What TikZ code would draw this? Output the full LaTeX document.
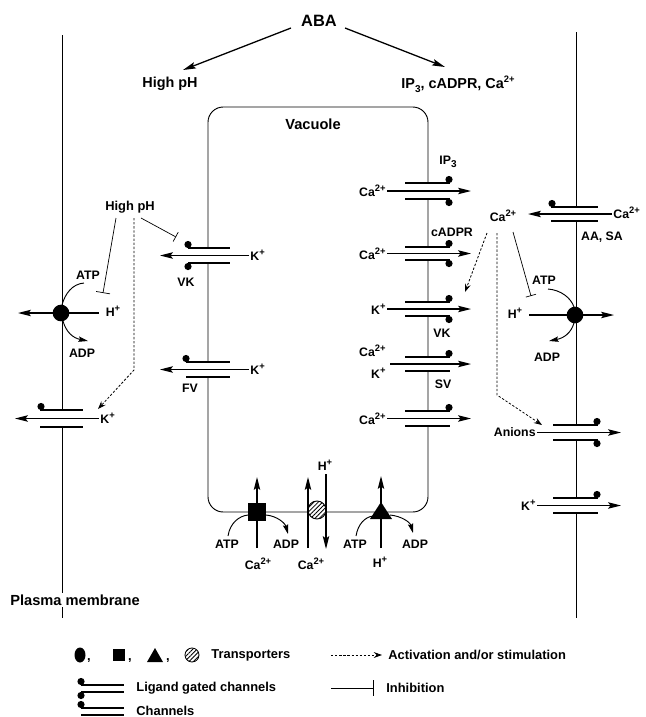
\documentclass[tikz,border=0pt]{standalone}
\usepackage{fontspec}
\setmainfont{Liberation Sans}
\usetikzlibrary{arrows.meta,patterns.meta}
\newcommand{\ChBars}[4]{%
  \fill[white] (#1,#3) rectangle (#2,#4);
  \draw[chbar] (#1,#3) -- (#2,#3);
  \draw[chbar] (#1,#4) -- (#2,#4);}
\newcommand{\ChDot}[2]{\fill (#1,#2) circle[radius=3.6];}
\newcommand{\myup}[1]{\raisebox{0.42em}{\fontsize{8}{8}\selectfont #1}}
\newcommand{\mydown}[1]{\raisebox{-0.25em}{\fontsize{8.5}{8.5}\selectfont #1}}
\begin{document}
\begin{tikzpicture}[x=0.03cm,y=-0.03cm,
  lbl/.style={font=\bfseries\fontsize{10.5}{12}\selectfont,inner sep=1pt},
  toplbl/.style={font=\bfseries\fontsize{12.3}{14}\selectfont,inner sep=1pt},
  leglbl/.style={font=\bfseries\fontsize{11}{13}\selectfont,inner sep=1pt},
  biglbl/.style={font=\bfseries\fontsize{14}{16}\selectfont,inner sep=1pt},
  pmlbl/.style={font=\bfseries\fontsize{12.5}{14}\selectfont,inner sep=1pt},
  mem/.style={line width=0.8pt},
  chbar/.style={line width=1pt},
  ion/.style={line width=1.1pt,-{Stealth[length=11pt,width=5.5pt,inset=2pt]}},
  ionline/.style={line width=1.1pt},
  nrg/.style={line width=0.8pt},
  nrgarr/.style={line width=0.8pt,-{Stealth[length=8pt,width=4.5pt,inset=1pt]}},
  act/.style={line width=0.7pt,dash pattern=on 2pt off 1.5pt,-{Stealth[length=7pt,width=5pt,inset=2.5pt]}},
  inh/.style={line width=0.6pt,-{Bar[width=9pt]}},
  pump/.style={circle,fill,inner sep=0pt,minimum size=0.5cm},
  hatch/.style={draw,line width=0.8pt,fill=white,postaction={pattern={Lines[angle=45,distance=2.6pt,line width=0.7pt]}}},
]
\useasboundingbox (0,0) rectangle (646,717);

% ---------- top ----------
\node[biglbl] (aba) at (319,21) {ABA};
\node[toplbl] (hph) at (170,84) {High pH};
\node[toplbl] (sig) at (458,84) {IP\mydown{3}, cADPR, Ca\myup{2+}};
\coordinate (abaL) at (291,28);
\coordinate (abaR) at (345,28);
\coordinate (hphT) at (183,70);
\coordinate (sigT) at (445,67);
\draw[ion] (abaL) -- (hphT);
\draw[ion] (abaR) -- (sigT);

% ---------- membranes ----------
\draw[mem] (62,35) -- (62,618);
\draw[mem] (576,32) -- (576,618);
\draw[mem,rounded corners=13pt] (208,107) rectangle (428,512);
\node[toplbl,font=\bfseries\fontsize{12.5}{14}\selectfont] (vac) at (313,124) {Vacuole};

% ---------- left vacuole channels ----------
\ChBars{188}{230}{248}{263}
\ChDot{188}{244.5}\ChDot{188}{266.5}
\node[lbl,anchor=west] (kvk) at (249,255.5) {K\myup{+}};
\coordinate (kvkT) at (160,255.5);
\draw[ion] (kvkT -| kvk.west) -- (kvkT);
\node[lbl] (vkl) at (186,282) {VK};

\ChBars{186}{230}{362}{377}
\ChDot{186}{358.5}
\node[lbl,anchor=west] (kfv) at (249,369.5) {K\myup{+}};
\coordinate (kfvT) at (160,369.5);
\draw[ion] (kfvT -| kfv.west) -- (kfvT);
\node[lbl] (fv) at (190,388) {FV};

% ---------- left plasma membrane ----------
\ChBars{40}{83}{410}{427}
\ChDot{41}{406.5}
\node[lbl,anchor=west] (kpm) at (99,418.5) {K\myup{+}};
\coordinate (kpmT) at (15,418.5);
\draw[ion] (kpmT -| kpm.west) -- (kpmT);

\node[pump] (lpump) at (61,313) {};
\node[lbl] (lh) at (113,311) {H\myup{+}};
\coordinate (lpT) at (18,313);
\draw[ion] (lpump.center) -- (lpT);
\draw[ionline,shorten <=5pt] (lh.west |- lpump.center) -- (lpump.center);
\node[lbl] (latp) at (88,275) {ATP};
\node[lbl] (ladp) at (82,353) {ADP};
\draw[nrg] (84,283) .. controls (72,284) and (65,294) .. (62,305);
\draw[nrgarr] (63,321) .. controls (66,332) and (73,338) .. (88,341);

\node[lbl,font=\bfseries\fontsize{11}{13}\selectfont] (hp2) at (130,207) {High pH};
\coordinate (hpa) at (141,218);
\coordinate (hpaT) at (176,237);
\coordinate (hpb) at (116,218);
\coordinate (hpbT) at (103,293);
\coordinate (hpc) at (134,218);
\coordinate (hpcM) at (134,370);
\coordinate (hpcT) at (98,409);
\draw[inh] (hpa) -- (hpaT);
\draw[inh,-{Bar[width=12pt]}] (hpb) -- (hpbT);
\draw[act] (hpc) -- (hpcM) -- (hpcT);

% ---------- right vacuole channels ----------
\ChBars{405}{450}{183}{199}
\ChDot{449}{179.5}\ChDot{449}{202.5}
\node[lbl,anchor=east] (c1) at (387,191) {Ca\myup{2+}};
\coordinate (c1T) at (471,191);
\draw[ion] (c1T -| c1.east) -- (c1T);
\node[lbl] (ip3) at (448,162) {IP\mydown{3}};

\ChBars{405}{450}{247}{260}
\ChDot{449}{243.5}\ChDot{449}{263.5}
\node[lbl,anchor=east] (c2) at (387,253.5) {Ca\myup{2+}};
\coordinate (c2T) at (471,253.5);
\draw[ion] (c2T -| c2.east) -- (c2T);
\node[lbl] (cadpr) at (452,232) {cADPR};

\ChBars{405}{450}{302}{316}
\ChDot{449}{298.5}\ChDot{449}{319.5}
\node[lbl,anchor=east] (k3) at (387,309) {K\myup{+}};
\coordinate (k3T) at (471,309);
\draw[ion] (k3T -| k3.east) -- (k3T);
\node[lbl] (vkr) at (442,333) {VK};

\ChBars{405}{450}{357}{371}
\ChDot{449}{353.5}
\node[lbl,anchor=east] (c4) at (387,351) {Ca\myup{2+}};
\node[lbl,anchor=east] (k4) at (387,373) {K\myup{+}};
\coordinate (c4S) at (390,364);
\coordinate (c4T) at (471,364);
\draw[ion] (c4S) -- (c4T);
\node[lbl] (sv) at (443,384) {SV};

\ChBars{405}{450}{411}{426}
\ChDot{449}{407.5}
\node[lbl,anchor=east] (c5) at (387,418.5) {Ca\myup{2+}};
\coordinate (c5T) at (471,418.5);
\draw[ion] (c5T -| c5.east) -- (c5T);

% ---------- right plasma membrane ----------
\ChBars{551}{598}{207}{221}
\ChDot{552}{203.5}
\node[lbl,anchor=west] (c6) at (612,213) {Ca\myup{2+}};
\coordinate (c6T) at (528,214);
\draw[ion] (c6T -| c6.west) -- (c6T);
\node[lbl] (aasa) at (602,237) {AA, SA};

\ChBars{553}{598}{425}{440}
\ChDot{597}{421.5}\ChDot{597}{443.5}
\node[lbl,anchor=east] (ani) at (537,432.5) {Anions};
\coordinate (aniT) at (621,432.5);
\draw[ion] (aniT -| ani.east) -- (aniT);

\ChBars{553}{598}{498}{513}
\ChDot{597}{494.5}
\node[lbl,anchor=east] (k7) at (537,505.5) {K\myup{+}};
\coordinate (k7T) at (621,505.5);
\draw[ion] (k7T -| k7.east) -- (k7T);

\node[pump] (rpump) at (575,315) {};
\node[lbl] (rh) at (515,313) {H\myup{+}};
\coordinate (rpT) at (614,315);
\draw[ion] (rpump.center) -- (rpT);
\draw[ionline,shorten <=5pt] (rh.east |- rpump.center) -- (rpump.center);
\node[lbl] (ratp) at (544,280) {ATP};
\node[lbl] (radp) at (547,357) {ADP};
\draw[nrg] (548,289) .. controls (561,290) and (571,298) .. (574,307);
\draw[nrgarr] (574,323) .. controls (571,333) and (564,338) .. (549,341);

\node[lbl] (cac) at (503,216) {Ca\myup{2+}};
\coordinate (caa) at (487,233);
\coordinate (caaT) at (465,292);
\coordinate (cab) at (497,233);
\coordinate (cabM) at (497,395);
\coordinate (cabT) at (542,425);
\coordinate (cai) at (513,232);
\coordinate (caiT) at (531,296);
\draw[act] (caa) -- (caaT);
\draw[act] (cab) -- (cabM) -- (cabT);
\draw[inh] (cai) -- (caiT);

% ---------- bottom transporters ----------
\node[rectangle,fill,inner sep=0pt,minimum size=0.54cm] (sq) at (257,512) {};
\coordinate (sqT) at (257,477);
\coordinate (sqB) at (257,548);
\draw[ion] (sq.north) -- (sqT);
\draw[ionline] (sqB) -- (sq.south);
\node[lbl] (batp1) at (227,544) {ATP};
\node[lbl] (badp1) at (286,544) {ADP};
\node[lbl] (bca1) at (258,564) {Ca\myup{2+}};
\draw[nrg] (228,536) .. controls (230,523) and (239,516) .. (248,515);
\draw[nrgarr] (266,515) .. controls (277,516) and (285,523) .. (288,534);

\draw[hatch] (317,510) circle[radius=9];
\coordinate (hcU0) at (308,548);
\coordinate (hcU) at (308,477);
\coordinate (hcD0) at (326,474);
\coordinate (hcD) at (326,549);
\draw[ion] (hcU0) -- (hcU);
\draw[ion] (hcD0) -- (hcD);
\node[lbl] (bh2) at (325,465) {H\myup{+}};
\node[lbl] (bca2) at (311,564) {Ca\myup{2+}};

\fill (370,519) -- (392,519) -- (381,502) -- cycle;
\coordinate (triTop) at (381,503);
\coordinate (triT) at (381,476);
\coordinate (triBot) at (381,519);
\coordinate (triB) at (381,548);
\draw[ion] (triTop) -- (triT);
\draw[ionline] (triB) -- (triBot);
\node[lbl] (batp3) at (355,544) {ATP};
\node[lbl] (badp3) at (415,544) {ADP};
\node[lbl] (bh3) at (380,562) {H\myup{+}};
\draw[nrg] (356,536) .. controls (358,524) and (365,517) .. (373,516);
\draw[nrgarr] (390,515) .. controls (401,516) and (410,522) .. (413,533);

\node[pmlbl,fill=white] (pml) at (75,600) {Plasma membrane};

% ---------- legend ----------
\fill (80,655) ellipse [x radius=5.5, y radius=7.5];
\node[leglbl,anchor=base west,inner sep=0pt] (cm1) at (87,660) {,};
\fill (113,649) rectangle (125,661);
\node[leglbl,anchor=base west,inner sep=0pt] (cm2) at (128,660) {,};
\fill (147,662) -- (163,662) -- (155,648) -- cycle;
\node[leglbl,anchor=base west,inner sep=0pt] (cm3) at (166,660) {,};
\draw[hatch,line width=0.7pt] (192,655) circle[radius=7];
\node[leglbl,anchor=west] (ltr) at (210,655) {Transporters};
\coordinate (lgA) at (331,655);
\coordinate (lgAT) at (382,655);
\draw[act] (lgA) -- (lgAT);
\node[leglbl,anchor=west] (lact) at (387,655) {Activation and/or stimulation};

\draw[chbar] (81,685) -- (124,685);
\draw[chbar] (81,692) -- (124,692);
\ChDot{81}{681.5}\ChDot{81}{695.5}
\node[leglbl,anchor=west] (llg) at (135,688) {Ligand gated channels};
\coordinate (lgI) at (331,688);
\coordinate (lgIT) at (374,688);
\draw[inh,-{Bar[width=13pt]}] (lgI) -- (lgIT);
\node[leglbl,anchor=west] (linh) at (385,688) {Inhibition};

\draw[chbar] (81,708) -- (124,708);
\draw[chbar] (81,715) -- (124,715);
\ChDot{81}{704.5}
\node[leglbl,anchor=west] (lch) at (135,711) {Channels};
\end{tikzpicture}
\end{document}
